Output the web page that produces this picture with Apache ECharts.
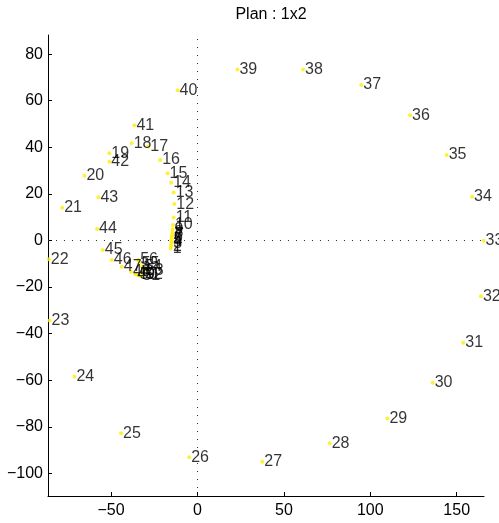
<!DOCTYPE html>
<html>
<head>
<meta charset="utf-8">
<script src="https://cdn.jsdelivr.net/npm/echarts@6/dist/echarts.min.js"></script>
<style>html,body{margin:0;padding:0;background:#fff;}#c{width:499px;height:523px;}</style>
</head>
<body>
<div id="c"></div>
<script>
var titleText = 'Plan : 1x2';
var pointLabels = ['1','2','3','4','5','6','7','8','9','10','11','12','13','14','15','16','17','18','19','20','21','22','23','24','25','26','27','28','29','30','31','32','33','34','35','36','37','38','39','40','41','42','43','44','45','46','47','48','49','50','51','52','53','54','55','56'];
var xValues = [-15.5,-15.3,-15.2,-15.0,-15.0,-14.8,-14.6,-14.5,-14.4,-14.2,-13.8,-13.4,-13.8,-15.2,-17.3,-21.6,-28.5,-38.1,-51.0,-65.4,-78.3,-86.0,-85.6,-71.2,-44.2,-4.8,37.5,76.5,109.9,136.1,153.8,164.0,165.5,158.9,144.2,123.0,94.8,61.1,23.1,-11.5,-36.5,-51.0,-57.3,-58.1,-54.8,-49.6,-43.8,-38.5,-36.0,-34.6,-33.0,-31.5,-31.0,-32.0,-33.5,-34.3];
var yValues = [-3.5,-2.5,-1.5,-0.5,0.5,1.5,2.5,3.5,4.8,6.6,9.9,15.6,20.6,24.8,28.8,34.5,40.2,41.7,37.4,27.8,14.0,-8.1,-34.4,-58.5,-82.8,-93.1,-95.0,-87.1,-76.4,-61.1,-43.9,-23.9,-0.1,18.8,36.7,53.8,66.7,73.4,73.4,64.5,49.5,33.8,18.5,4.9,-4.1,-8.4,-11.3,-13.4,-14.5,-14.8,-15.2,-14.6,-13.0,-11.2,-9.8,-8.4];
var xTicks = [-50, 0, 50, 100, 150];
var yTicks = [-100, -80, -60, -40, -20, 0, 20, 40, 60, 80];
var xRange = [-86.5, 165.8];
var yRange = [-109.7, 88.2];

var FONT = '"Liberation Sans Narrow", "Liberation Sans", Arial, sans-serif';
var pts = xValues.map(function (x, i) { return [x, yValues[i], pointLabels[i]]; });
function fmt(v) { return String(v).replace('-', '\u2212'); }

var chart = echarts.init(document.getElementById('c'), null, {renderer: 'canvas'});
chart.setOption({
  animation: false,
  backgroundColor: '#fff',
  title: {
    text: titleText, left: 266, textAlign: 'center', top: 2,
    textStyle: {fontFamily: FONT, fontSize: 16, fontWeight: 'normal', color: '#000'}
  },
  grid: {left: 48, right: 15, top: 35, bottom: 27, containLabel: false},
  xAxis: {
    type: 'value', min: xRange[0], max: xRange[1],
    axisLine: {show: true, onZero: false, lineStyle: {color: '#000', width: 1}},
    axisTick: {show: true, inside: true, length: 4, customValues: xTicks, lineStyle: {color: '#000'}},
    axisLabel: {customValues: xTicks, formatter: fmt, margin: 7, color: '#000', fontFamily: FONT, fontSize: 16},
    splitLine: {show: false}
  },
  yAxis: {
    type: 'value', min: yRange[0], max: yRange[1],
    axisLine: {show: true, onZero: false, lineStyle: {color: '#000', width: 1}},
    axisTick: {show: true, inside: true, length: 4, customValues: yTicks, lineStyle: {color: '#000'}},
    axisLabel: {customValues: yTicks, formatter: fmt, margin: 5, color: '#000', fontFamily: FONT, fontSize: 16},
    splitLine: {show: false}
  },
  series: [{
    type: 'scatter',
    data: pts,
    symbol: 'circle',
    symbolSize: 4,
    itemStyle: {color: '#ffee00'},
    label: {
      show: true, position: 'right', distance: 0,
      formatter: function (p) { return p.data[2]; },
      color: '#000', fontFamily: FONT, fontSize: 16
    },
    labelLayout: {hideOverlap: false},
    markLine: {
      silent: true, symbol: 'none', label: {show: false},
      lineStyle: {color: '#333', type: [1, 7], width: 1},
      data: [{xAxis: 0}, {yAxis: 0}]
    },
    z: 3
  }]
});
</script>
</body>
</html>
